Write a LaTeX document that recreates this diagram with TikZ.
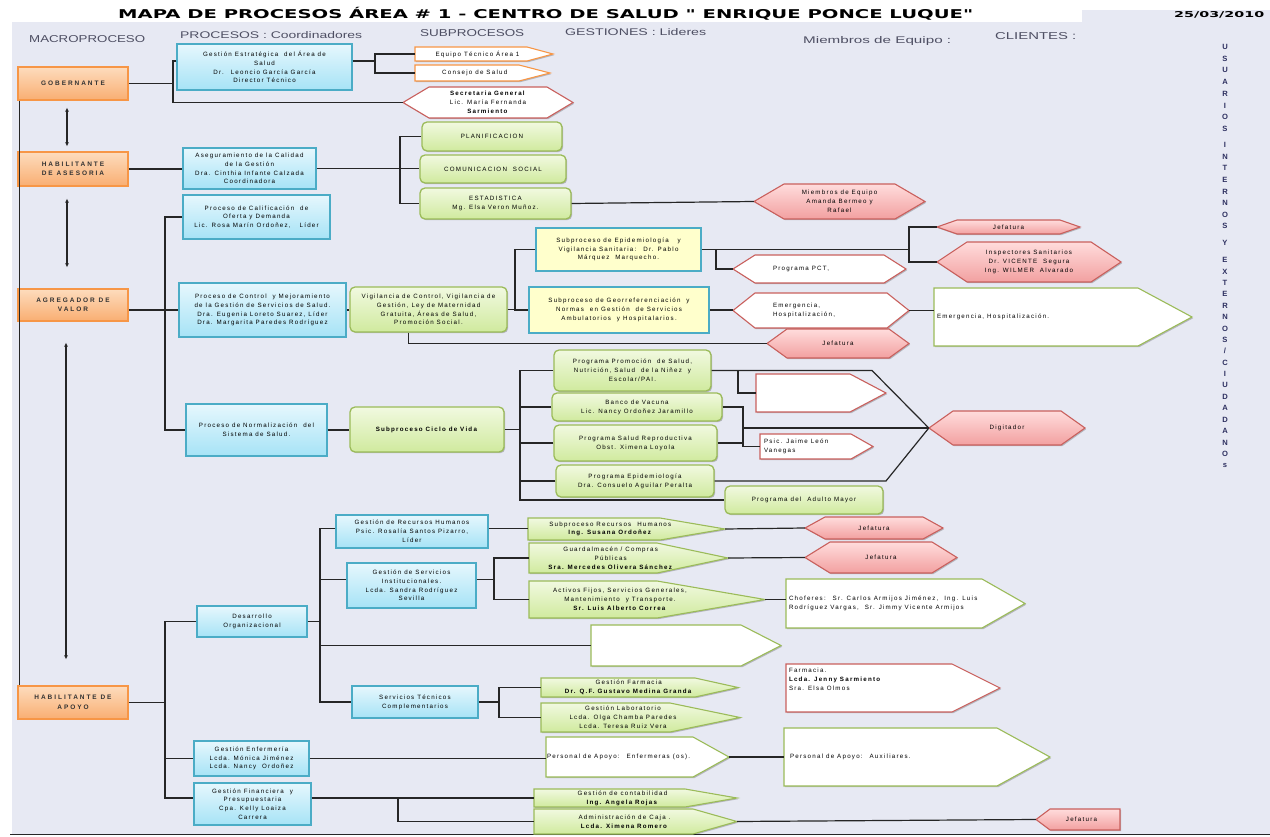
\documentclass[tikz,border=0pt]{standalone}
\usepackage{graphicx}
\usepackage{fontspec}
\setmainfont{Liberation Sans}
\newfontfamily\tfont[LetterSpace=20]{Liberation Sans}
\newfontfamily\ofont[LetterSpace=30]{Liberation Sans}
\newfontfamily\titlefont{DejaVu Sans}
\usetikzlibrary{arrows.meta,shadows,calc}
\definecolor{bg}{HTML}{E7E9F3}
\definecolor{orB}{HTML}{F79646}
\definecolor{orT}{HTML}{FDDCBD}
\definecolor{orD}{HTML}{F9AE72}
\definecolor{blB}{HTML}{4BACC6}
\definecolor{blT}{HTML}{E6F7FD}
\definecolor{blD}{HTML}{A6E3F6}
\definecolor{grB}{HTML}{9BBB59}
\definecolor{grT}{HTML}{F1F9E0}
\definecolor{grD}{HTML}{D0EA9E}
\definecolor{rdB}{HTML}{C9605D}
\definecolor{rdT}{HTML}{FFDCDC}
\definecolor{rdD}{HTML}{F2A0A0}
\definecolor{yl}{HTML}{FFFFCC}
\definecolor{ln}{HTML}{262626}
\definecolor{hd}{HTML}{4E4F63}
\definecolor{vt}{HTML}{2E3060}
\tikzset{
 txt/.style={font=\tfont\fontsize{6.2}{8.8}\selectfont, align=center, inner sep=0pt, text=black},
 shd/.style={drop shadow={shadow xshift=1.2pt, shadow yshift=-1.2pt, opacity=0.22, fill=black}},
 orbox/.style={draw=orB, line width=1.3pt, top color=orT, bottom color=orD, font=\ofont\bfseries\fontsize{6.5}{9.5}\selectfont, align=center, inner sep=0pt, text=black!80, shd},
 bluebox/.style={draw=blB, line width=1.3pt, top color=blT, bottom color=blD, txt, shd},
 greenbox/.style={draw=grB, line width=1.3pt, top color=grT, bottom color=grD, rounded corners=5pt, txt, shd},
 yellowbox/.style={draw=blB, line width=1.3pt, fill=yl, txt, shd},
 redhex/.style={draw=rdB, line width=1.1pt, top color=rdT, bottom color=rdD, shd},
 whred/.style={draw=rdB, line width=1.1pt, fill=white, shd},
 whgreen/.style={draw=grB, line width=1.1pt, fill=white, shd},
 whorange/.style={draw=orB, line width=1.1pt, fill=white, shd},
 grpen/.style={draw=grB, line width=1.1pt, top color=grT, bottom color=grD, shd},
 conn/.style={draw=ln, line width=1.2pt},
 darr/.style={draw=ln, line width=1.2pt, {Latex[length=4pt,width=4pt]}-{Latex[length=4pt,width=4pt]}},
 hdr/.style={inner sep=0pt, anchor=base west, text=hd, font=\fontsize{8}{8}\selectfont},
 vtxt/.style={inner sep=0pt, text=vt, font=\bfseries\fontsize{7.6}{8}\selectfont},
 ltx/.style={align=left, anchor=west, xshift=3pt}
}
% rectangle box: style, name, x1, y1, x2, y2, text
\newcommand\mybox[7]{\node[#1, minimum width={#5-#3}, minimum height={#6-#4}] (#2) at ({(#3+#5)/2},{(#4+#6)/2}) {#7};}
% hexagon: path style, text opts, name, x1, y1, x2, y2, tip, text
\newcommand\hexa[9]{%
 \path[#1] (#4,{(#5+#7)/2}) -- ({#4+#8},#5) -- ({#6-#8},#5) -- (#6,{(#5+#7)/2}) -- ({#6-#8},#7) -- ({#4+#8},#7) -- cycle;
 \node[inner sep=0pt, minimum width={#6-#4}, minimum height={#7-#5}] (#3) at ({(#4+#6)/2},{(#5+#7)/2}) {};
 \node[txt, at={(#3.center)}, #2] {#9};}
% pentagon pointing right
\newcommand\penR[9]{%
 \path[#1] (#4,#5) -- ({#6-#8},#5) -- (#6,{(#5+#7)/2}) -- ({#6-#8},#7) -- (#4,#7) -- cycle;
 \node[inner sep=0pt, minimum width={#6-#4}, minimum height={#7-#5}] (#3) at ({(#4+#6)/2},{(#5+#7)/2}) {};
 \node[txt, at={([xshift={-#8/4}]#3.center)}, #2] {#9};}
% pentagon pointing left
\newcommand\penL[9]{%
 \path[#1] (#4,{(#5+#7)/2}) -- ({#4+#8},#5) -- (#6,#5) -- (#6,#7) -- ({#4+#8},#7) -- cycle;
 \node[inner sep=0pt, minimum width={#6-#4}, minimum height={#7-#5}] (#3) at ({(#4+#6)/2},{(#5+#7)/2}) {};
 \node[txt, at={([xshift={#8/4}]#3.center)}, #2] {#9};}
\begin{document}
\begin{tikzpicture}[x=1pt,y=-1pt]
\useasboundingbox (0,0) rectangle (1270,837);
\fill[white] (0,0) rectangle (1270,837);
\fill[bg] (12,10) rectangle (1270,834);
\fill[white] (0,0) rectangle (1082,22);
\draw[ln, line width=1.6pt] (10,834.5) -- (1270,834.5);

% title, date, headers
\node[inner sep=0pt, anchor=base west] (title) at (118,19) {\resizebox{855pt}{9pt}{\titlefont\bfseries MAPA DE PROCESOS \smash{Á}REA \# 1 - CENTRO DE SALUD " ENRIQUE PONCE LUQUE"}};
\node[inner sep=0pt, anchor=base west] (date) at (1174,18) {\resizebox{90pt}{6pt}{\titlefont\bfseries 25/03/2010}};
\node[hdr] (h1) at (29,42.5) {\resizebox{116pt}{7pt}{MACROPROCESO}};
\node[hdr] (h2) at (180,38.5) {\resizebox{182pt}{7pt}{PROCESOS : Coordinadores}};
\node[hdr] (h3) at (420,37) {\resizebox{104pt}{7pt}{SUBPROCESOS}};
\node[hdr] (h4) at (565,36) {\resizebox{141pt}{7pt}{GESTIONES : Lideres}};
\node[hdr] (h5) at (803,43.5) {\resizebox{148pt}{7pt}{Miembros de Equipo :}};
\node[hdr] (h6) at (995,39.5) {\resizebox{81pt}{7pt}{CLIENTES :}};

% vertical clients text
\foreach \c [count=\i from 0] in {U,S,U,A,R,I,O,S} {\node[vtxt] (va\i) at (1225,{47+11.7*\i}) {\c};}
\foreach \c [count=\i from 0] in {I,N,T,E,R,N,O,S} {\node[vtxt] (vb\i) at (1225,{145+11.6*\i}) {\c};}
\node[vtxt] (vy) at (1225,243) {Y};
\foreach \c [count=\i from 0] in {E,X,T,E,R,N,O,S,/,C,I,U,D,A,D,A,N,O,s} {\node[vtxt] (vc\i) at (1225,{260+11.4*\i}) {\c};}

% macroprocesses
\mybox{orbox}{gob}{18}{67}{128}{100}{GOBERNANTE}
\mybox{orbox}{ase}{18}{152}{128}{186}{HABILITANTE\\DE ASESORIA}
\mybox{orbox}{agr}{18}{289}{128}{321}{AGREGADOR DE\\VALOR}
\mybox{orbox}{apo}{18}{686}{128}{719}{HABILITANTE DE\\APOYO}

% processes
\mybox{bluebox}{ge}{177}{44}{352}{90}{Gestión Estratégica \ del Área de\\Salud\\Dr. \ Leoncio García García\\Director Técnico}
\mybox{bluebox}{acg}{183}{148}{316}{189}{Aseguramiento de la Calidad\\de la Gestión\\Dra. Cinthia Infante Calzada\\Coordinadora}
\mybox{bluebox}{cod}{183}{195}{330}{239}{Proceso de Calificación \ de\\Oferta y Demanda\\Lic. Rosa Marín Ordoñez, \ \ Líder}
\mybox{bluebox}{cmg}{179}{283}{346}{337}{Proceso de Control \ y Mejoramiento\\de la Gestión de Servicios de Salud.\\Dra. Eugenia Loreto Suarez, Líder\\Dra. Margarita Paredes Rodríguez}
\mybox{bluebox}{nor}{186}{404}{327}{456}{Proceso de Normalización \ del\\Sistema de Salud.}
\mybox{bluebox}{dor}{197}{606}{307}{637}{Desarrollo\\Organizacional}
\mybox{bluebox}{grh}{336}{515}{488}{548}{Gestión de Recursos Humanos\\Psic. Rosalía Santos Pizarro,\\Líder}
\mybox{bluebox}{gsi}{347}{563}{476}{608}{Gestión de Servicios\\Institucionales.\\Lcda. Sandra Rodríguez\\Sevilla}
\mybox{bluebox}{stc}{352}{686}{478}{718}{Servicios Técnicos\\Complementarios}
\mybox{bluebox}{gen}{194}{741}{309}{776}{Gestión Enfermería\\Lcda. Mónica Jiménez\\Lcda. Nancy \ Ordoñez}
\mybox{bluebox}{gfp}{194}{783}{311}{825}{Gestión Financiera \ y\\Presupuestaria\\Cpa. Kelly Loaiza\\Carrera}

% subprocesses
\mybox{greenbox}{pla}{422}{122}{562}{151}{PLANIFICACION}
\mybox{greenbox}{com}{420}{155}{566}{183}{COMUNICACION \ SOCIAL}
\mybox{greenbox}{est}{420}{188}{571}{219}{ESTADISTICA\\Mg. Elsa Veron Muñoz.}
\mybox{greenbox}{vig}{350}{287}{507}{332}{Vigilancia de Control, Vigilancia de\\Gestión, Ley de Maternidad\\Gratuita, Áreas de Salud,\\Promoción Social.}
\mybox{greenbox}{cdv}{350}{407}{504}{452}{\textbf{Subproceso Ciclo de Vida}}
\mybox{yellowbox}{epi}{536}{228}{701}{271}{Subproceso de Epidemiología \ \ y\\Vigilancia Sanitaria: \ Dr. Pablo\\Márquez \ Marquecho.}
\mybox{yellowbox}{geo}{529}{287}{709}{333}{Subproceso de Georreferenciación \ y\\Normas \ en Gestión \ de Servicios\\Ambulatorios \ y Hospitalarios.}
\mybox{greenbox}{ppr}{554}{350}{711}{391}{Programa Promoción \ de Salud,\\Nutrición, Salud \ de la Niñez \ y\\Escolar/PAI.}
\mybox{greenbox}{bva}{552}{393}{722}{421}{Banco de Vacuna\\Lic. Nancy Ordoñez Jaramillo}
\mybox{greenbox}{psr}{554}{425}{717}{461}{Programa Salud Reproductiva\\Obst. Ximena Loyola}
\mybox{greenbox}{pep}{556}{465}{714}{497}{Programa Epidemiología\\Dra. Consuelo Aguilar Peralta}
\mybox{greenbox}{pam}{725}{486}{883}{514}{Programa del \ Adulto Mayor}

% gestiones / miembros / clientes
\penR{whorange}{}{eta}{415}{47}{553}{61}{26}{Equipo Técnico Área 1}
\penR{whorange}{}{cds}{415}{65}{550}{81}{31}{Consejo de Salud}
\hexa{whred}{}{sec}{403}{87}{573}{118}{26}{\textbf{Secretaria General}\\Lic. María Fernanda\\\textbf{Sarmiento}}
\hexa{redhex}{}{mie}{754}{184}{925}{219}{30}{Miembros de Equipo\\Amanda Bermeo y\\Rafael}
\hexa{redhex}{}{jef1}{937}{220}{1080}{234}{20}{Jefatura}
\hexa{redhex}{}{ins}{937}{242}{1121}{282}{30}{Inspectores Sanitarios\\Dr. VICENTE \ Segura\\Ing. WILMER \ Alvarado}
\hexa{whred}{ltx, at={([xshift=37pt]pct.west)}}{pct}{733}{255}{906}{283}{22}{Programa PCT,}
\hexa{whred}{ltx, at={([xshift=37pt]emh.west)}}{emh}{733}{293}{909}{328}{22}{Emergencia,\\Hospitalización,}
\hexa{redhex}{}{jef2}{767}{329}{909}{358}{20}{Jefatura}
\penR{whgreen}{ltx, at={(emh2.west)}}{emh2}{934}{288}{1192}{346}{54}{Emergencia, Hospitalización.}
\penR{whred}{}{emp}{756}{374}{886}{412}{36}{}
\penR{whred}{ltx, at={(pjl.west)}, xshift=1pt}{pjl}{760}{434}{873}{459}{22}{Psic. Jaime León\\Vanegas}
\hexa{redhex}{}{dig}{929}{411}{1085}{445}{24}{Digitador}

\penR{grpen}{}{srh}{528}{518}{725}{540}{65}{Subproceso Recursos \ Humanos\\\textbf{Ing. Susana Ordoñez}}
\penR{grpen}{}{gcp}{529}{543}{728}{573}{71}{Guardalmacén / Compras\\Públicas\\\textbf{Sra. Mercedes Olivera Sánchez}}
\penR{grpen}{}{afs}{529}{581}{765}{618}{108}{Activos Fijos, Servicios Generales,\\Mantenimiento \ y Transporte.\\\textbf{Sr. Luis Alberto Correa}}
\hexa{redhex}{}{jef3}{805}{517}{943}{539}{20}{Jefatura}
\hexa{redhex}{}{jef4}{805}{542}{957}{573}{25}{Jefatura}
\penR{whgreen}{ltx, at={(cho.west)}}{cho}{786}{579}{1025}{628}{43}{Choferes: \ Sr. Carlos Armijos Jiménez, \ Ing. Luis\\Rodríguez Vargas, \ Sr. Jimmy Vicente Armijos}
\penR{whgreen}{}{blk}{591}{625}{781}{666}{40}{}
\penR{grpen}{}{gfa}{541}{678}{738}{697}{43}{Gestión Farmacia\\\textbf{Dr. Q.F. Gustavo Medina Granda}}
\penR{grpen}{}{glab}{541}{703}{740}{732}{70}{Gestión Laboratorio\\Lcda. Olga Chamba Paredes\\Lcda. Teresa Ruiz Vera}
\penR{whred}{ltx, at={(far.west)}, yshift=9pt}{far}{786}{664}{1000}{712}{48}{Farmacia.\\\textbf{Lcda. Jenny Sarmiento}\\Sra. Elsa Olmos}
\penR{whgreen}{ltx, at={(pae.west)}, xshift=-2pt}{pae}{546}{737}{729}{777}{36}{Personal de Apoyo: \ Enfermeras (os).}
\penR{whgreen}{ltx, at={(paa.west)}, xshift=3pt}{paa}{784}{728}{1050}{786}{53}{Personal de Apoyo: \ Auxiliares.}
\penR{grpen}{}{gco}{534}{789}{737}{807}{52}{Gestión de contabilidad\\\textbf{Ing. Angela Rojas}}
\penR{grpen}{}{adc}{534}{809}{737}{834}{44}{Administración de Caja .\\\textbf{Lcda. Ximena Romero}}
\penL{redhex}{}{jef5}{1036}{809}{1120}{830}{14}{Jefatura}

% bracket positions
\coordinate (xa) at (173,0);
\coordinate (xb) at (375,0);
\coordinate (xc) at (400,0);
\coordinate (xd) at (165,0);
\coordinate (xe) at (515,0);
\coordinate (xf) at (909,0);
\coordinate (xg) at (716,0);
\coordinate (xh) at (520,0);
\coordinate (xi) at (872,0);
\coordinate (xj) at (738,0);
\coordinate (xk) at (743,0);
\coordinate (xl) at (886,0);
\coordinate (xm) at (320,0);
\coordinate (xn) at (494,0);
\coordinate (xo) at (499,0);
\coordinate (xp) at (398,0);

% connectors
\draw[conn] ([xshift=2pt]gob.south west) -- ([xshift=2pt]apo.north west);
\draw[darr] ([xshift=-6pt,yshift=-7pt]gob.south) -- ([xshift=-6pt,yshift=5pt]ase.north);
\draw[darr] ([xshift=-6pt,yshift=-12pt]ase.south) -- ([xshift=-6pt,yshift=21pt]agr.north);
\draw[darr] ([xshift=-7pt,yshift=-21pt]agr.south) -- ([xshift=-7pt,yshift=26pt]apo.north);

\draw[conn] (gob.east) -- (gob.east -| xa);
\draw[conn] ([yshift=6pt]ge.west) -| (xa |- sec.west) -- (sec.west);
\draw[conn] ([yshift=6pt]ge.east) -- ([yshift=6pt]ge.east -| xb);
\draw[conn] (eta.west) -| (xb |- cds.west) -- (cds.west);

\draw[conn] (ase.east) -- (ase.east -| acg.west);
\draw[conn] (acg.east) -- (acg.east -| com.west);
\draw[conn] (pla.west) -| (xc |- est.west) -- (est.west);
\draw[conn] (est.east) -- (mie.west);

\draw[conn] (agr.east |- cmg.west) -- (cmg.west);
\draw[conn] (cod.west) -| (xd |- nor.west) -- (nor.west);
\draw[conn] (cmg.east) -- (cmg.east -| vig.west);
\draw[conn] (vig.east) -- (vig.east -| xe);
\draw[conn] (epi.west) -| (xe |- geo.west) -- (geo.west);
\draw[conn] (epi.east) -- (epi.east -| xf);
\draw[conn] (jef1.west) -| (xf |- ins.west) -- (ins.west);
\draw[conn] (epi.east -| xg) |- (pct.west);
\draw[conn] (geo.east) -- (geo.east -| emh.west);
\draw[conn] (emh.east) -- (emh.east -| emh2.west);
\draw[conn] ([xshift=-20pt]vig.south) |- (jef2.west);

\draw[conn] (nor.east) -- (nor.east -| cdv.west);
\draw[conn] (cdv.east) -- (cdv.east -| xh);
\draw[conn] (ppr.west) -| (xh |- pam.west) -- (pam.west);
\draw[conn] (bva.west) -- (bva.west -| xh);
\draw[conn] (psr.west) -- (psr.west -| xh);
\draw[conn] (pep.west) -- (pep.west -| xh);
\draw[conn] (ppr.east) -- (ppr.east -| xi) -- (dig.west);
\draw[conn] (ppr.east -| xj) |- (emp.west);
\draw[conn] (bva.east) -| (xk |- pjl.west) -- (pjl.west);
\draw[conn] (psr.east) -- (psr.east -| xk);
\draw[conn] (xk |- dig.west) -- (dig.west);
\draw[conn] (pep.east) -- (pep.east -| xl) -- (dig.west);

\draw[conn] (apo.east) -- (apo.east -| xd);
\draw[conn] (dor.west) -| ($(xd |- gfp.west)+(0,-6)$) -- ([yshift=6pt]gfp.west);
\draw[conn] (gen.west) -- (gen.west -| xd);
\draw[conn] (dor.east) -- (dor.east -| xm);
\draw[conn] ([yshift=3pt]grh.west) -| (xm |- stc.west) -- (stc.west);
\draw[conn] ([yshift=6pt]gsi.west) -- ([yshift=6pt]gsi.west -| xm);
\draw[conn] (blk.west) -- (blk.west -| xm);
\draw[conn] ([yshift=3pt]grh.east) -- ([yshift=3pt]grh.east -| srh.west);
\draw[conn] (srh.east) -- (jef3.west);
\draw[conn] ([yshift=6pt]gsi.east) -- ([yshift=6pt]gsi.east -| xn);
\draw[conn] (gcp.west) -| (xn |- afs.west) -- (afs.west);
\draw[conn] (gcp.east) -- (jef4.west);
\draw[conn] (afs.east) -- (afs.east -| cho.west);
\draw[conn] (stc.east) -- (stc.east -| xo);
\draw[conn] (gfa.west) -| (xo |- glab.west) -- (glab.west);
\draw[conn] (gen.east) -- (gen.east -| pae.west);
\draw[conn] (pae.east) -- (pae.east -| paa.west);
\draw[conn] ([yshift=6pt]gfp.east) -- ([yshift=6pt]gfp.east -| gco.west);
\draw[conn] ($(xp |- gfp.east)+(0,-6)$) |- (adc.west);
\draw[conn] (adc.east) -- (jef5.west);
\end{tikzpicture}
\end{document}
